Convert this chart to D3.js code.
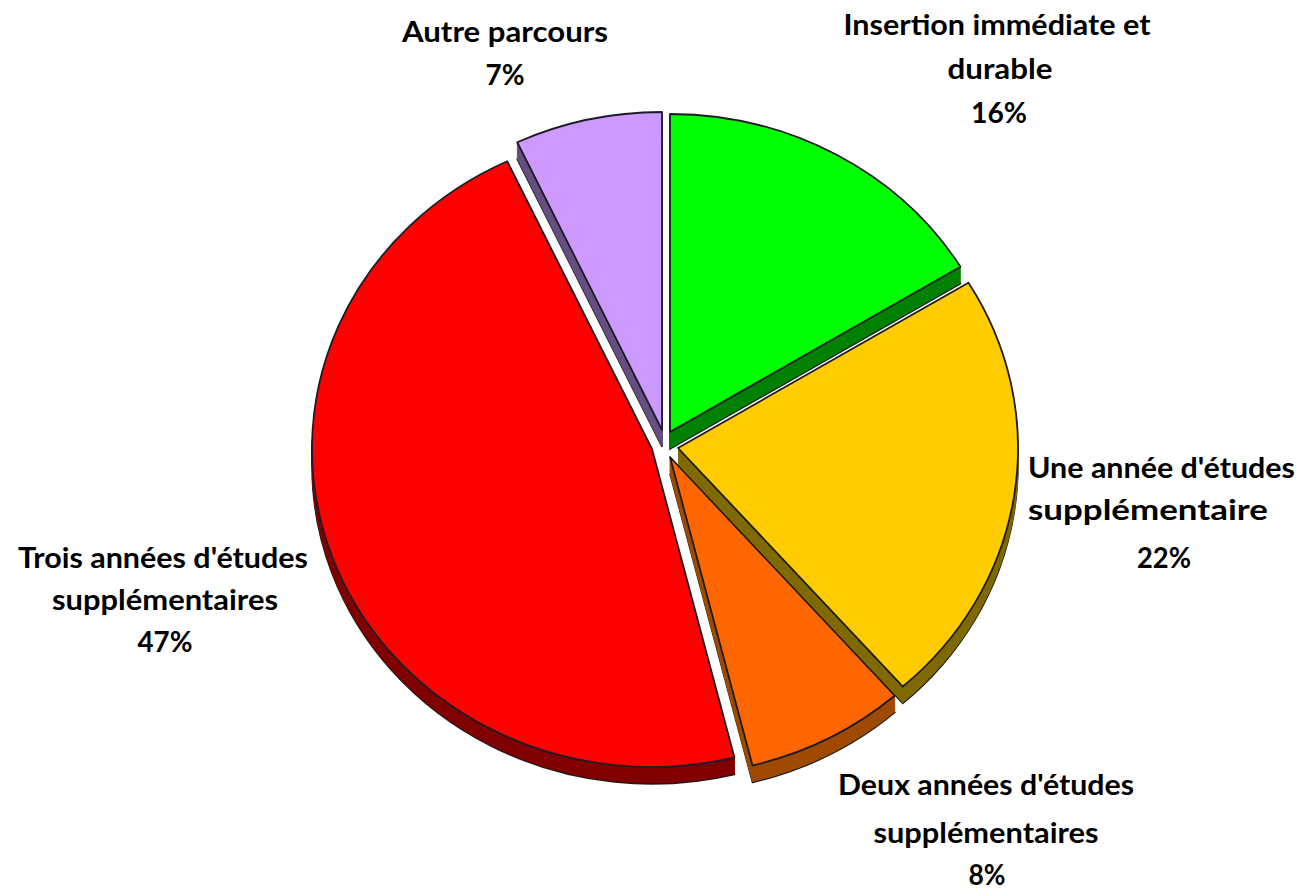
<!DOCTYPE html>
<html>
<head>
<meta charset="utf-8">
<script src="https://cdn.jsdelivr.net/npm/d3@7/dist/d3.min.js"></script>
<style>
html,body{margin:0;padding:0;background:#fff}
svg{display:block}
text{font-family:Lato,"Open Sans",sans-serif;font-weight:700;font-size:29px;fill:#000}
</style>
</head>
<body>
<svg id="c" width="1303" height="891"></svg>
<script>
const categories = ["Insertion immédiate et durable","Une année d'études supplémentaire","Deux années d'études supplémentaires","Trois années d'études supplémentaires","Autre parcours"];
const values = [16.3,22.2,7.6,46.9,7];
const faceColors = ["#00ff00","#ffcc00","#ff6600","#ff0000","#cc99ff"];
const sideColors = ["#008000","#806a00","#a04a00","#800000","#665080"];
const apexX = [670,678,670,652,662];
const apexY = [432,448,457,449,430];
const drawOrder = [4,0,3,2,1];
const labelText = [
  {t:"Insertion immédiate et",x:997,y:25,a:"middle",w:307},
  {t:"durable",x:1000,y:69,a:"middle",w:105},
  {t:"16%",x:999,y:113,a:"middle",w:56},
  {t:"Une année d'études",x:1028,y:468,a:"start",w:267},
  {t:"supplémentaire",x:1028,y:510,a:"start",w:240},
  {t:"22%",x:1164,y:558,a:"middle",w:54},
  {t:"Deux années d'études",x:986,y:785,a:"middle",w:296},
  {t:"supplémentaires",x:986,y:833,a:"middle",w:225},
  {t:"8%",x:987,y:875,a:"middle",w:37},
  {t:"Trois années d'études",x:163,y:558,a:"middle",w:290},
  {t:"supplémentaires",x:165,y:600,a:"middle",w:226},
  {t:"47%",x:165,y:642,a:"middle",w:55},
  {t:"Autre parcours",x:505,y:32,a:"middle",w:206},
  {t:"7%",x:505,y:75,a:"middle",w:39}
];
const rx = 340, ry = 318, depth = 17;

const svg = d3.select("#c");
const defs = svg.append("defs");
defs.append("filter").attr("id","soft").attr("x","-5%").attr("y","-5%").attr("width","110%").attr("height","110%")
  .append("feGaussianBlur").attr("stdDeviation",0.5);
const pie = d3.pie().sort(null).value(d=>d)(values);
const arc = d3.arc().innerRadius(0).outerRadius(rx);
const sy = ry/rx;

const slices = svg.selectAll("g.slice").data(drawOrder).join("g").attr("class","slice").attr("filter","url(#soft)");
slices.each(function(i){
  const g = d3.select(this);
  const d = arc(pie[i]);
  g.selectAll("path.fillcopy").data(d3.range(depth,0,-1)).join("path")
    .attr("class","fillcopy")
    .attr("d",d)
    .attr("transform",k=>`translate(${apexX[i]},${apexY[i]+k}) scale(1,${sy})`)
    .attr("fill",sideColors[i])
    .attr("stroke",k=>k===depth?"#1a1a1a":sideColors[i])
    .attr("stroke-width",k=>k===depth?1.5:1)
    .attr("vector-effect","non-scaling-stroke");
  g.append("path")
    .attr("d",d)
    .attr("transform",`translate(${apexX[i]},${apexY[i]}) scale(1,${sy})`)
    .attr("fill",faceColors[i])
    .attr("stroke","#1c1c28")
    .attr("stroke-width",1.8)
    .attr("stroke-linejoin","round")
    .attr("vector-effect","non-scaling-stroke");
});

svg.selectAll("text").data(labelText).join("text")
  .attr("x",d=>d.x)
  .attr("y",d=>d.y)
  .attr("dy","0.35em")
  .attr("text-anchor",d=>d.a)
  .attr("textLength",d=>d.w)
  .attr("lengthAdjust","spacingAndGlyphs")
  .text(d=>d.t);
</script>
</body>
</html>
